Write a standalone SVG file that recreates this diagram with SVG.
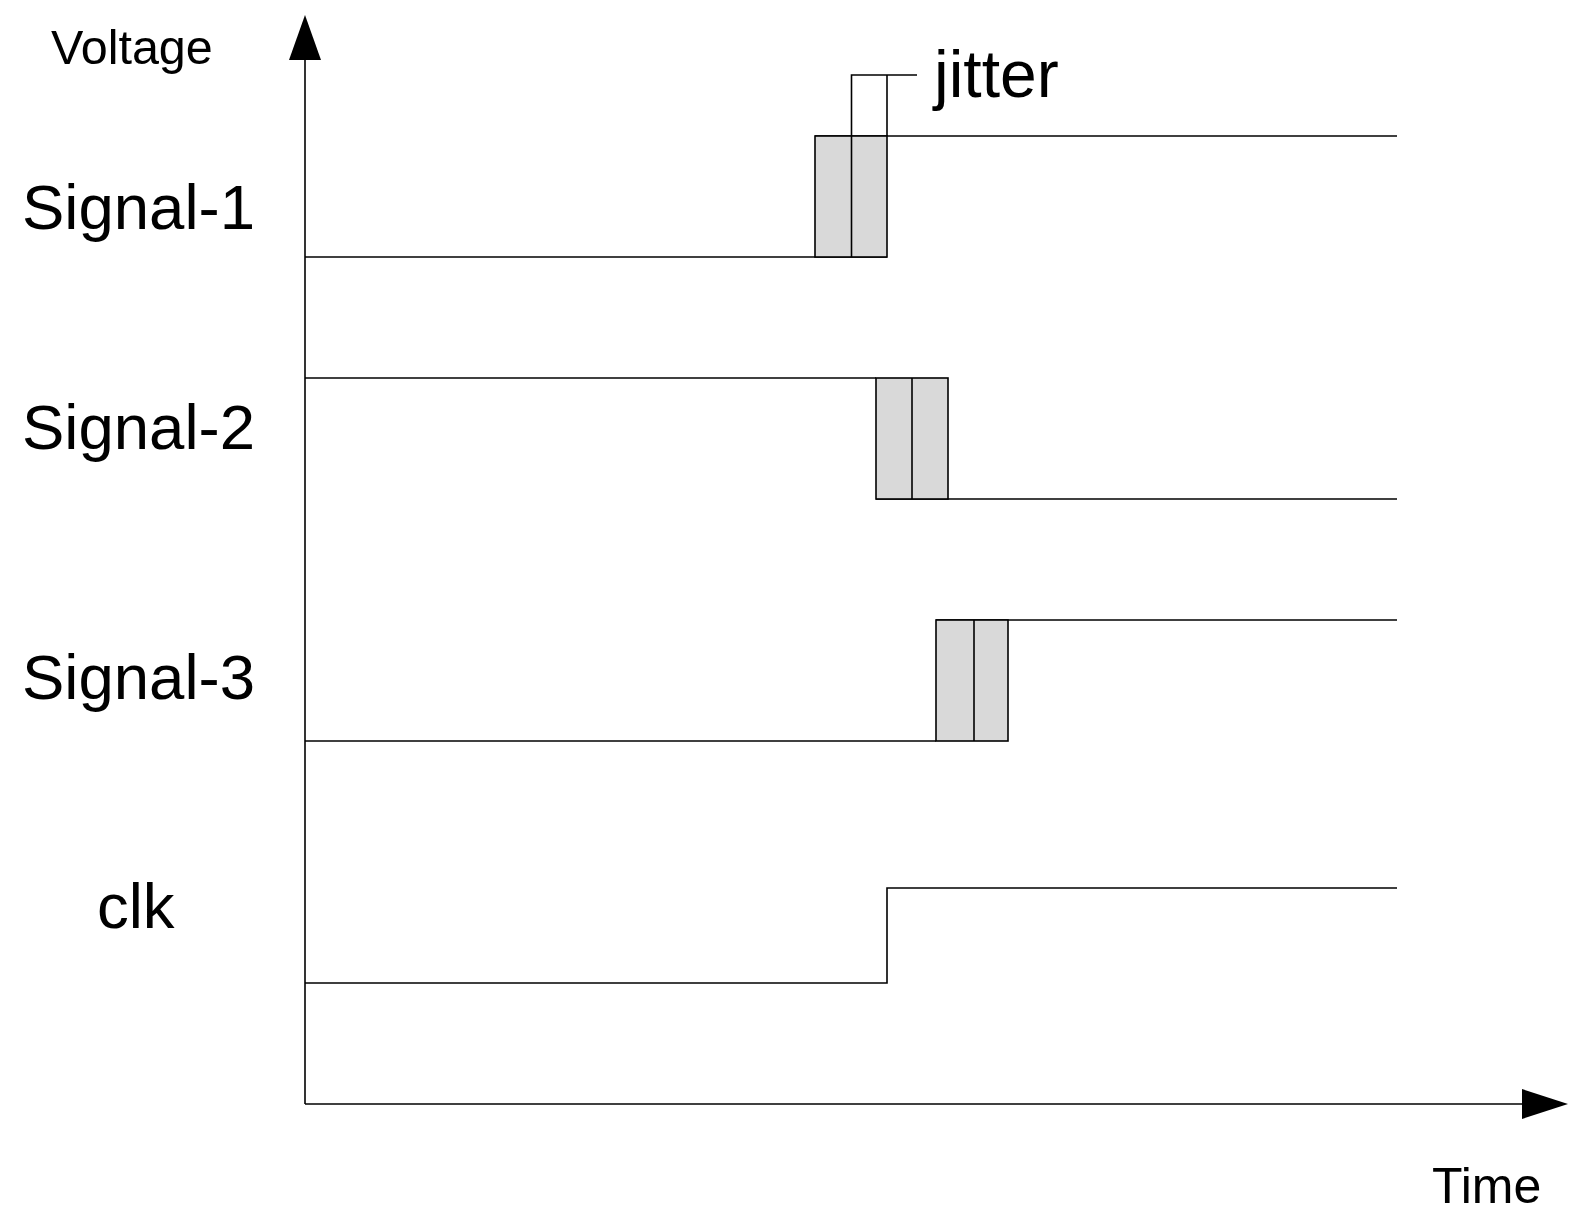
<svg xmlns="http://www.w3.org/2000/svg" width="1577" height="1217" viewBox="0 0 1577 1217">
<style>
.ln{fill:none;stroke:#000;stroke-width:1.6}
.jit{fill:#d9d9d9;stroke:#000;stroke-width:1.6}
.ah{fill:#000;stroke:none}
text{font-family:"Liberation Sans",Arial,sans-serif;fill:#000}
.big{font-size:63.5px}
.sm{font-size:48.5px}
</style>
<rect width="1577" height="1217" fill="#fff"/>
<g id="axes">
<line class="ln" x1="305" y1="1104" x2="305" y2="58"/>
<polygon class="ah" points="305,15 289,60 321,60"/>
<line class="ln" x1="305" y1="1104" x2="1524" y2="1104"/>
<polygon class="ah" points="1568,1104 1522,1089 1522,1119"/>
</g>
<g id="labels">
<text class="sm" x="51" y="64">Voltage</text>
<text class="sm" x="1432" y="1203" style="font-size:50px">Time</text>
<text class="big" x="22" y="229">Signal-1</text>
<text class="big" x="22" y="449">Signal-2</text>
<text class="big" x="22" y="699">Signal-3</text>
<text class="big" x="97" y="928">clk</text>
<text class="big" x="934" y="97" style="font-size:66px">jitter</text>
</g>
<g id="signal1">
<polyline class="ln" points="305,257 887,257"/>
<polyline class="ln" points="815,136 1397,136"/>
<rect class="jit" x="815" y="136" width="72" height="121"/>
<line class="ln" x1="851.5" y1="136" x2="851.5" y2="257"/>
</g>
<g id="signal2">
<polyline class="ln" points="305,378 876,378"/>
<polyline class="ln" points="876,499 1397,499"/>
<rect class="jit" x="876" y="378" width="72" height="121"/>
<line class="ln" x1="912" y1="378" x2="912" y2="499"/>
</g>
<g id="signal3">
<polyline class="ln" points="305,741 936,741"/>
<polyline class="ln" points="936,620 1397,620"/>
<rect class="jit" x="936" y="620" width="72" height="121"/>
<line class="ln" x1="974" y1="620" x2="974" y2="741"/>
</g>
<g id="clk">
<polyline class="ln" points="305,983 887,983 887,888 1397,888"/>
</g>
<g id="connectors">
<polyline class="ln" points="851.5,136 851.5,75 917,75"/>
<line class="ln" x1="887" y1="136" x2="887" y2="75"/>
</g>
</svg>
